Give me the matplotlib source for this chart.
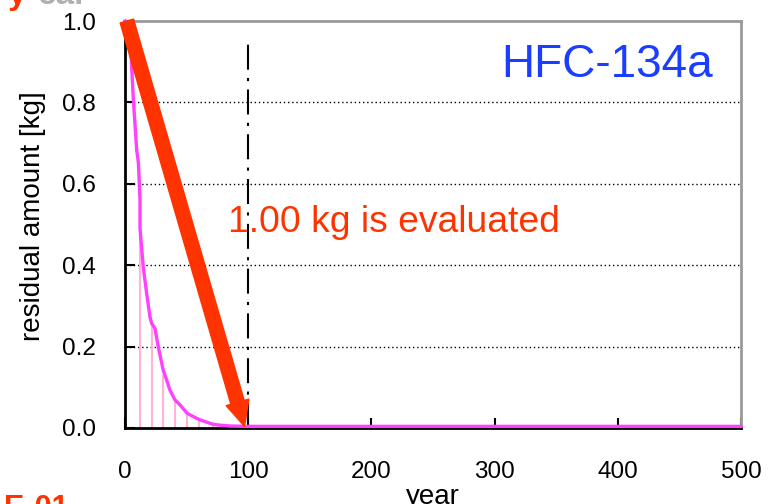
import matplotlib
matplotlib.use("Agg")
import matplotlib.pyplot as plt

plt.rcParams['font.family'] = ['Liberation Sans', 'DejaVu Sans']

# residual amount curve (year, kg)
curve_years = [0, 4, 6.8, 9.5, 10.9, 12.2, 12.2, 14.8, 17.6, 20.3, 21.6, 24.3, 27, 31, 33.8,
               36.5, 40.6, 44.6, 50.5, 58, 61, 69, 71.7, 77, 85, 98.8, 500]
curve_values = [1.0, 0.97, 0.806, 0.683, 0.651, 0.56, 0.49, 0.396, 0.33, 0.273, 0.257, 0.245, 0.2,
                0.142, 0.118, 0.093, 0.069, 0.057, 0.036, 0.024, 0.02, 0.0115, 0.009, 0.007,
                0.005, 0.004, 0.004]

# light vertical marker lines
stem_years = [12.2, 21.8, 31.2, 40.7, 50.7, 60.4, 71.8, 81.5]
stem_tops = [0.49, 0.25, 0.13, 0.068, 0.036, 0.02, 0.01, 0.006]

x_ticks = [0, 100, 200, 300, 400, 500]
y_ticks = [0.0, 0.2, 0.4, 0.6, 0.8, 1.0]
y_tick_labels = ['0.0', '0.2', '0.4', '0.6', '0.8', '1.0']
evaluated_year = 100

fig = plt.figure(figsize=(7.69, 5.04), dpi=100)
ax = fig.add_axes([125/769, 1-428/504, (741-125)/769, (428-21)/504])
ax.set_xlim(0, 500)
ax.set_ylim(0, 1.0)

for y in y_ticks[1:-1]:
    ax.axhline(y, color='black', lw=1.0, linestyle=(0, (1, 2)), zorder=1)

ax.vlines(stem_years, 0, stem_tops, color='#ffb3d6', lw=1.5, zorder=2)
ax.plot(curve_years, curve_values, color='#ff40ff', lw=2.4, zorder=3, clip_on=False)

ax.axvline(evaluated_year, ymin=0, ymax=0.95, color='black', lw=1.5,
           linestyle=(0, (12, 4, 1.5, 4)), zorder=2)

ax.annotate('', xy=(97, 0.004), xytext=(1.5, 1.0),
            arrowprops=dict(arrowstyle='simple,head_length=1.8,head_width=1.7,tail_width=1.0',
                            mutation_scale=10, color='#ff3300', shrinkA=0, shrinkB=0),
            annotation_clip=False, zorder=5)

ax.text((228-125)/616, (428-232)/407, '1.00 kg is evaluated', color='#ff3300', fontsize=26.8,
        transform=ax.transAxes, ha='left', va='baseline')
ax.text((713-125)/616, (428-77)/407, 'HFC-134a', color='#1a3dff', fontsize=33,
        transform=ax.transAxes, ha='right', va='baseline')

for s in ['left', 'bottom']:
    ax.spines[s].set_color('black')
    ax.spines[s].set_linewidth(2)
for s in ['top', 'right']:
    ax.spines[s].set_color('#9a9a9a')
    ax.spines[s].set_linewidth(2)

ax.set_xticks(x_ticks)
ax.set_yticks(y_ticks)
ax.set_yticklabels(y_tick_labels)
ax.tick_params(axis='both', direction='in', length=7, width=1.5, labelsize=17.5)
ax.tick_params(axis='y', pad=21)
ax.tick_params(axis='x', pad=24)

ax.set_xlabel('year', fontsize=20, va='baseline')
ax.xaxis.set_label_coords(0.5, -0.1867)
ax.set_ylabel('residual amount [kg]', fontsize=20, va='center', ha='center')
ax.yaxis.set_label_coords(-0.149, 0.52)

# fragments of surrounding slide text
fig.text(8/769, 1-4/504, 'y', color='#ff3300', fontsize=24, fontweight='bold', va='baseline')
fig.text(38/769, 1-4/504, 'ear', color='#b0b0b0', fontsize=24, fontweight='bold', va='baseline')
fig.text(4/769, 1-494/504, 'E-01', color='#ff3300', fontsize=22, fontweight='bold', va='top')

fig.savefig('out.png', dpi=100)
